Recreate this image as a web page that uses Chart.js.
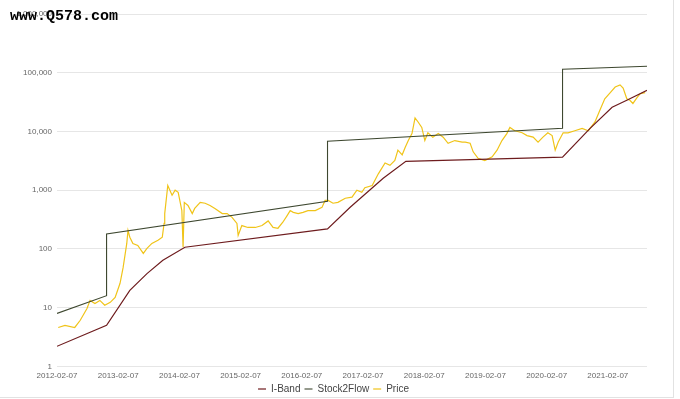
<!DOCTYPE html>
<html>
<head>
<meta charset="utf-8">
<script src="https://cdn.jsdelivr.net/npm/chart.js@4/dist/chart.umd.min.js"></script>
<style>
  html, body { margin: 0; padding: 0; background: #fff; }
  #wrap { position: relative; width: 680px; height: 399px; }
  #frame {
    position: absolute; left: 0; top: 0; width: 673px; height: 397px;
    border-right: 1px solid #e2e2e2; border-bottom: 1px solid #e2e2e2;
    pointer-events: none;
  }
  #mark {
    position: absolute; left: 10px; top: 8px;
    font: bold 15px "Liberation Mono", "DejaVu Sans Mono", monospace;
    color: #000;
  }
</style>
</head>
<body>
<div id="wrap">
  <canvas id="myChart" width="680" height="399"></canvas>
  <div id="frame"></div>
  <div id="mark">www.Q578.com</div>
</div>
<script>
// x values are years since 2012-02-07
const tickLabels = ["2012-02-07", "2013-02-07", "2014-02-07", "2015-02-07", "2016-02-07",
  "2017-02-07", "2018-02-07", "2019-02-07", "2020-02-07", "2021-02-07"];
const yTicks = [1, 10, 100, 1000, 10000, 100000, 1000000];

const ibandX = [0, 0.81, 1.19, 1.47, 1.73, 2.09, 4.42, 4.79, 5.33, 5.70, 8.26, 8.71, 9.07, 9.31, 9.64];
const ibandY = [2.2, 5, 19.7, 38, 64, 107, 220, 512, 1600, 3100, 3650, 11300, 25800, 34000, 50000];

const s2fX = [0, 0.81, 0.81, 4.42, 4.42, 8.26, 8.26, 9.64];
const s2fY = [8, 16, 180, 650, 6800, 11300, 115000, 129000];

const priceX = [0.02, 0.13, 0.29, 0.38, 0.49, 0.54, 0.62, 0.70, 0.78, 0.87, 0.95,
  1.03, 1.08, 1.14, 1.16, 1.19, 1.24, 1.32, 1.41, 1.47, 1.55, 1.65, 1.72, 1.75, 1.76,
  1.81, 1.88, 1.93, 1.98, 2.04, 2.06, 2.08, 2.14, 2.21, 2.25, 2.34, 2.42, 2.50, 2.58,
  2.70, 2.78, 2.86, 2.94, 2.96, 3.02, 3.12, 3.24, 3.35, 3.45, 3.53, 3.61, 3.69, 3.76,
  3.81, 3.86, 3.94, 4.02, 4.10, 4.22, 4.33, 4.38, 4.43, 4.51, 4.59, 4.71, 4.82, 4.90,
  4.98, 5.03, 5.15, 5.25, 5.36, 5.44, 5.52, 5.57, 5.64, 5.69, 5.74, 5.80, 5.85, 5.90,
  5.96, 6.01, 6.06, 6.14, 6.23, 6.31, 6.39, 6.50, 6.62, 6.67, 6.75, 6.80, 6.88, 6.99,
  7.11, 7.19, 7.27, 7.35, 7.40, 7.48, 7.60, 7.68, 7.78, 7.86, 7.94, 8.02, 8.09, 8.14,
  8.19, 8.27, 8.35, 8.46, 8.58, 8.68, 8.79, 8.87, 8.95, 9.04, 9.12, 9.20, 9.25, 9.31,
  9.36, 9.41, 9.48, 9.53, 9.61];
const priceY = [4.6, 5.0, 4.6, 6.1, 9.7, 13.3, 11.8, 13.3, 11, 12.3, 15,
  26, 48, 124, 207, 158, 124, 115, 84, 102, 124, 140, 158, 272, 400,
  1200, 820, 1000, 920, 450, 107, 620, 550, 400, 490, 620, 600, 550, 490,
  400, 400, 345, 272, 170, 250, 232, 232, 250, 300, 232, 225, 285, 370,
  450, 420, 400, 420, 450, 450, 510, 670, 670, 600, 620, 730, 760, 1000,
  920, 1100, 1200, 1900, 2900, 2650, 3200, 4800, 4000, 5400, 7000, 9200, 17000, 14500,
  11700, 7000, 9500, 8000, 9200, 8000, 6300, 7000, 6600, 6600, 6300, 4500, 3500, 3200,
  3700, 4800, 7000, 9200, 11700, 10300, 9500, 8500, 8000, 6600, 8000, 9500, 8500, 4800,
  6600, 9500, 9500, 10300, 11300, 10300, 14500, 23000, 36000, 46000, 57000, 62000, 55000, 36000,
  34000, 30000, 38000, 44000, 46000];

function toPoints(xs, ys) {
  return xs.map((x, i) => ({ x: x, y: ys[i] }));
}

const ibandDataset = {
  label: "I-Band",
  data: toPoints(ibandX, ibandY),
  borderColor: "rgb(110, 28, 30)",
  backgroundColor: "rgb(110, 28, 30)",
  borderWidth: 1.2,
  pointRadius: 0,
  tension: 0,
};
const s2fDataset = {
  label: "Stock2Flow",
  data: toPoints(s2fX, s2fY),
  borderColor: "rgb(62, 72, 48)",
  backgroundColor: "rgb(62, 72, 48)",
  borderWidth: 1.1,
  pointRadius: 0,
  tension: 0,
};
const priceDataset = {
  label: "Price",
  data: toPoints(priceX, priceY),
  borderColor: "rgb(240, 196, 25)",
  backgroundColor: "rgb(240, 196, 25)",
  borderWidth: 1.2,
  pointRadius: 0,
  tension: 0,
};

//Put the legend just under the tick labels
const legendMove = {
  id: "legendMove",
  afterLayout(chart) {
    const lg = chart.legend;
    const h = lg.bottom - lg.top;
    lg.top = 380;
    lg.bottom = 380 + h;
    lg.left += 10;
    lg.right += 10;
  },
};

const font = '"Liberation Sans", Arial, sans-serif';
var ctx = document.getElementById("myChart");
var myChart = new Chart(ctx, {
  type: "line",
  data: { datasets: [ibandDataset, s2fDataset, priceDataset] },
  plugins: [legendMove],
  options: {
    responsive: false,
    animation: false,
    layout: { padding: { top: 14, right: 33, bottom: -11, left: 0 } },
    scales: {
      x: {
        type: "linear",
        min: 0,
        max: 9.64,
        grid: { display: false, drawTicks: false },
        border: { display: false },
        afterBuildTicks: (scale) => {
          scale.ticks = tickLabels.map((l, i) => ({ value: i }));
        },
        ticks: {
          autoSkip: false,
          maxRotation: 0,
          padding: 5,
          color: "#666",
          font: { family: font, size: 8 },
          callback: (value) => tickLabels[Math.round(value)],
        },
      },
      y: {
        type: "logarithmic",
        min: 1,
        max: 1000000,
        afterFit: (scale) => {
          scale.width = 57;
        },
        afterBuildTicks: (scale) => {
          scale.ticks = yTicks.map((v) => ({ value: v }));
        },
        grid: { color: "#e6e6e6", drawTicks: false },
        border: { display: false },
        ticks: {
          padding: 5,
          color: "#666",
          font: { family: font, size: 8 },
          callback: (value) => Number(value).toLocaleString("en-US"),
        },
      },
    },
    plugins: {
      legend: {
        position: "bottom",
        labels: {
          usePointStyle: true,
          pointStyle: "line",
          pointStyleWidth: 8,
          boxHeight: 6,
          padding: 4,
          color: "#444",
          font: { family: font, size: 10 },
        },
      },
      tooltip: { enabled: false },
    },
  },
});
</script>
</body>
</html>
